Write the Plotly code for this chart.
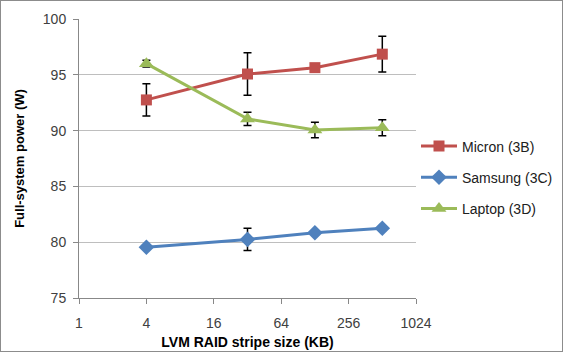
import plotly.graph_objects as go

stripe_kb = [4, 32, 128, 512]
micron = [92.75, 95.07, 95.64, 96.85]
micron_err = [1.45, 1.9, 0.0, 1.6]
samsung = [79.55, 80.25, 80.85, 81.25]
samsung_err = [0.0, 1.0, 0.0, 0.2]
laptop = [96.0, 91.05, 90.05, 90.26]
laptop_err = [0.3, 0.6, 0.7, 0.72]
x_ticks = [1, 4, 16, 64, 256, 1024]

series = [
    ("Micron (3B)", micron, micron_err, "#C0504D", "square", 11),
    ("Samsung (3C)", samsung, samsung_err, "#4F81BD", "diamond", 12),
    ("Laptop (3D)", laptop, laptop_err, "#9BBB59", "triangle-up", 13),
]

fig = go.Figure()
for name, ys, errs, color, sym, sz in series:
    fig.add_trace(go.Scatter(
        x=stripe_kb, y=ys, name=name, mode="lines+markers", legendgroup=name,
        line=dict(color=color, width=3),
        marker=dict(symbol=sym, size=sz, color=color),
        error_y=dict(type="data", array=errs, visible=True, color="black",
                     thickness=1.5, width=4),
    ))

W, H = 564, 353
L, R, T, B = 79, 148, 19, 55

fig.update_layout(
    width=W, height=H,
    margin=dict(l=L, r=R, t=T, b=B, autoexpand=False),
    paper_bgcolor="white", plot_bgcolor="white",
    font=dict(family="Liberation Sans, Arial", size=13, color="#404040"),
    showlegend=True,
    legend=dict(x=1.0, y=0.432, xanchor="left", yanchor="middle",
                font=dict(size=14, color="#202020"), tracegroupgap=10,
                itemwidth=36, bgcolor="rgba(0,0,0,0)"),
    xaxis=dict(type="log", range=[0, 3.0103], tickvals=x_ticks,
               ticktext=[str(v) for v in x_ticks],
               showgrid=False, zeroline=False,
               showline=True, linecolor="#888888", linewidth=1,
               ticks="outside", ticklen=5, tickcolor="#888888",
               ticklabelstandoff=7,
               tickfont=dict(size=14, color="#404040"),
               title=dict(text="<b>LVM RAID stripe size (KB)</b>",
                          font=dict(size=14, color="#000000"), standoff=7)),
    yaxis=dict(range=[75, 100], dtick=5, showgrid=True, gridcolor="#BEBEBE",
               gridwidth=1, zeroline=False,
               showline=True, linecolor="#888888", linewidth=1,
               ticks="outside", ticklen=5, tickcolor="#888888",
               ticklabelstandoff=4,
               tickfont=dict(size=14, color="#404040"),
               title=dict(text="<b>Full-system power (W)</b>",
                          font=dict(size=13, color="#000000"), standoff=15)),
)

post = (
    "document.body.style.margin='0';"
    "var b=document.createElement('div');"
    "b.style.cssText='position:absolute;left:0px;top:0px;width:561px;height:350px;"
    "border:1.5px solid #8c8c8c;pointer-events:none;z-index:1000;';"
    "document.body.appendChild(b);"
)
fig.write_html("out.html", config={"displayModeBar": False}, post_script=post)
